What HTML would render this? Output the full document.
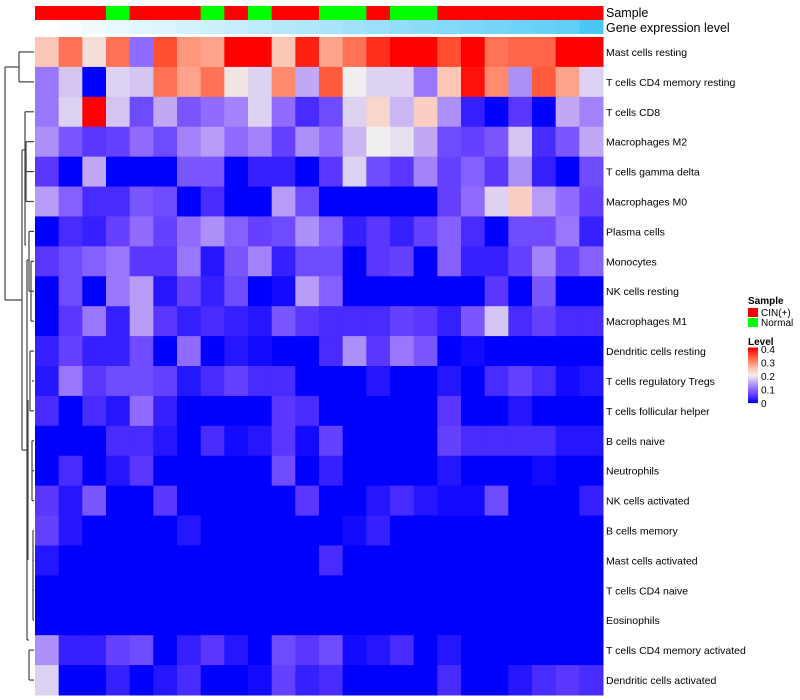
<!DOCTYPE html>
<html><head><meta charset="utf-8">
<style>
body{margin:0;background:#fff;}
svg{display:block;font-family:"Liberation Sans",sans-serif;}
</style></head>
<body>
<svg id="chart" width="800" height="700" xmlns="http://www.w3.org/2000/svg"></svg>
<script>
const rowNames = ["Mast cells resting","T cells CD4 memory resting","T cells CD8","Macrophages M2","T cells gamma delta","Macrophages M0","Plasma cells","Monocytes","NK cells resting","Macrophages M1","Dendritic cells resting","T cells regulatory  Tregs","T cells follicular helper","B cells naive","Neutrophils","NK cells activated","B cells memory","Mast cells activated","T cells CD4 naive","Eosinophils","T cells CD4 memory activated","Dendritic cells activated"];
const sampleGroups = ["CIN","CIN","CIN","Normal","CIN","CIN","CIN","Normal","CIN","Normal","CIN","CIN","Normal","Normal","CIN","Normal","Normal","CIN","CIN","CIN","CIN","CIN","CIN","CIN"];
const geneLevel = [0,0.04,0.08,0.12,0.16,0.2,0.24,0.28,0.32,0.36,0.4,0.44,0.48,0.52,0.56,0.6,0.64,0.68,0.72,0.76,0.8,0.84,0.88,1];
const r0 = [0.25,0.32,0.22,0.32,0.1,0.35,0.29,0.28,0.4,0.4,0.25,0.38,0.28,0.32,0.37,0.4,0.4,0.35,0.4,0.32,0.33,0.33,0.4,0.4];
const r1 = [0.11,0.17,0,0.18,0.17,0.32,0.28,0.32,0.21,0.18,0.3,0.15,0.34,0.2,0.18,0.18,0.11,0.25,0.39,0.3,0.13,0.34,0.28,0.18];
const r2 = [0.11,0.18,0.4,0.17,0.07,0.15,0.08,0.1,0.12,0.18,0.1,0.04,0.07,0.18,0.23,0.16,0.24,0.13,0.03,0,0.05,0,0.15,0.12];
const r3 = [0.13,0.08,0.05,0.06,0.1,0.07,0.12,0.14,0.1,0.12,0.06,0.13,0.1,0.16,0.2,0.19,0.15,0.07,0.06,0.08,0.17,0.04,0.08,0.15];
const r4 = [0.05,0,0.15,0,0,0,0.08,0.08,0,0.03,0.03,0,0.05,0.18,0.07,0.05,0.12,0.06,0.09,0.05,0.13,0.03,0,0.07];
const r5 = [0.14,0.09,0.04,0.04,0.08,0.07,0,0.04,0,0,0.14,0.07,0,0,0,0,0,0.06,0.1,0.18,0.24,0.14,0.1,0.06];
const r6 = [0,0.04,0.03,0.06,0.1,0.06,0.1,0.13,0.09,0.06,0.07,0.13,0.09,0.03,0.05,0.03,0.06,0.09,0.04,0,0.07,0.07,0.11,0.03];
const r7 = [0.05,0.07,0.09,0.11,0.05,0.05,0.11,0.02,0.08,0.12,0.03,0.07,0.07,0,0.05,0.06,0,0.09,0.03,0.03,0.06,0.12,0.06,0.09];
const r8 = [0,0.07,0,0.11,0.14,0.02,0.06,0.03,0.07,0,0.01,0.14,0.09,0,0,0,0,0,0,0.05,0,0.08,0,0];
const r9 = [0,0.05,0.11,0.03,0.14,0.05,0.03,0.04,0.03,0.02,0.08,0.05,0.04,0.04,0.04,0.06,0.05,0.03,0.08,0.17,0.04,0.06,0.04,0.04];
const r10 = [0.03,0.06,0.03,0.03,0.07,0,0.1,0,0.02,0.01,0,0,0.04,0.13,0.05,0.11,0.08,0,0.01,0,0,0,0,0];
const r11 = [0.02,0.11,0.05,0.07,0.07,0.06,0.02,0.04,0.06,0.04,0.04,0,0,0,0.02,0,0,0.02,0,0.04,0.06,0.04,0.01,0.02];
const r12 = [0.04,0,0.04,0.02,0.1,0.03,0,0,0,0,0.05,0.04,0,0,0,0,0,0.05,0,0,0.02,0,0,0];
const r13 = [0,0,0,0.04,0.04,0.02,0,0.04,0.01,0.02,0.05,0.01,0.06,0,0,0,0,0.06,0.04,0.04,0.04,0.04,0.02,0.02];
const r14 = [0,0.04,0,0.02,0.05,0,0,0,0,0,0.07,0,0.03,0,0,0,0,0.02,0,0,0,0.01,0,0];
const r15 = [0.05,0.02,0.08,0,0,0.05,0,0,0,0,0,0.05,0,0,0.02,0.04,0.02,0.01,0.01,0.07,0,0,0,0.03];
const r16 = [0.06,0.02,0,0,0,0,0.02,0,0,0,0,0,0,0.01,0.03,0,0,0,0,0,0,0,0,0];
const r17 = [0.02,0,0,0,0,0,0,0,0,0,0,0,0.04,0,0,0,0,0,0,0,0,0,0,0];
const r18 = [0,0,0,0,0,0,0,0,0,0,0,0,0,0,0,0,0,0,0,0,0,0,0,0];
const r19 = [0,0,0,0,0,0,0,0,0,0,0,0,0,0,0,0,0,0,0,0,0,0,0,0];
const r20 = [0.13,0.03,0.03,0.06,0.07,0,0.03,0.05,0.02,0,0.07,0.05,0.07,0.01,0.02,0.04,0,0.02,0,0,0,0,0,0];
const r21 = [0.18,0,0,0.03,0,0.02,0.04,0,0,0.01,0.06,0.03,0.04,0,0,0,0,0.04,0,0,0.02,0.04,0.05,0.04];
const values = [r0,r1,r2,r3,r4,r5,r6,r7,r8,r9,r10,r11,r12,r13,r14,r15,r16,r17,r18,r19,r20,r21];
const legendTicks = [0,0.1,0.2,0.3,0.4];

const svg = document.getElementById('chart');
const NS = "http://www.w3.org/2000/svg";
const X0 = 35, X1 = 603, Y0 = 37, Y1 = 695;
const nC = 24, nR = rowNames.length;
const cw = (X1 - X0) / nC, rh = (Y1 - Y0) / nR;
const xPos = c => X0 + c * cw;
const yPos = r => Y0 + r * rh;
const stops = [[0,[0,0,255]],[0.05,[90,54,255]],[0.1,[143,107,255]],[0.15,[192,168,245]],[0.2,[240,238,238]],[0.25,[252,198,182]],[0.3,[255,138,110]],[0.35,[255,78,48]],[0.4,[255,0,0]]];
function color(v){
  v = Math.max(0, Math.min(0.4, v));
  for (let i = 0; i < stops.length - 1; i++) {
    const [a, ca] = stops[i], [b, cb] = stops[i+1];
    if (v <= b) { const t = (v - a) / (b - a); return 'rgb(' + ca.map((x,k)=>Math.round(x + (cb[k]-x)*t)).join(',') + ')'; }
  }
  return 'rgb(255,0,0)';
}
function el(tag, attrs){ const e = document.createElementNS(NS, tag); for (const k in attrs) e.setAttribute(k, attrs[k]); svg.appendChild(e); return e; }

// annotations
for (let c = 0; c < nC; c++) {
  const s = el('rect', {x: xPos(c), y: 6, width: cw + 0.5, height: 14, fill: sampleGroups[c] === 'CIN' ? '#ff0000' : '#00ff00'});
  
  
  const g = geneLevel[c];
  const gc = 'rgb(' + Math.round(255 - (255-74)*g) + ',' + Math.round(255 - (255-200)*g) + ',' + Math.round(255 - (255-245)*g) + ')';
  const e = el('rect', {x: xPos(c), y: 20, width: cw + 0.5, height: 14, fill: gc});
  
  
}
let t = el('text', {x: 606, y: 17, 'font-size': 12.5, fill: '#000'}); t.textContent = 'Sample';


t = el('text', {x: 606, y: 32, 'font-size': 12.5, fill: '#000'}); t.textContent = 'Gene expression level';



// heatmap cells
for (let r = 0; r < nR; r++) {
  for (let c = 0; c < nC; c++) {
    const cell = el('rect', {x: xPos(c), y: yPos(r), width: cw + 0.5, height: rh + 0.5, fill: color(values[r][c])});
    
    
  }
  const lab = el('text', {x: 606, y: yPos(r) + rh/2 + 4, 'font-size': 10.5, fill: '#000'});
  lab.textContent = rowNames[r];
  
  
}

// dendrogram (approximate)
const yc = r => yPos(r) + rh/2;
const segs = [
  [19,yc(0),19,yc(1)],[19,yc(0),34,yc(0)],[19,yc(1),34,yc(1)],
  [5,67,5,300],[5,67,19,67],[5,300,22,300],
  [22,150,22,450],[22,150,25,150],[22,450,27,450],
  [25,yc(2),25,245],[25,yc(2),34,yc(2)],[25,245,26,245],
  [26,yc(3),26,yc(4),],[26,yc(3),34,yc(3)],[26,yc(4),34,yc(4)],
  [26,156,26,yc(5)],[26,yc(5),34,yc(5)],
  [27,260,27,640],[27,260,29,260],[29,yc(6),29,yc(8)],[29,yc(6),34,yc(6)],[29,yc(8),34,yc(8)],
  [31,yc(7),31,yc(9)],[31,yc(7),34,yc(7)],[31,yc(9),34,yc(9)],
  [28,400,28,560],[30,yc(10),30,yc(12)],[30,yc(10),34,yc(10)],[30,yc(12),34,yc(12)],
  [32,yc(11),34,yc(11)],[32,yc(13),32,yc(15)],[32,yc(13),34,yc(13)],[32,yc(14),34,yc(14)],[32,yc(15),34,yc(15)],
  [33,yc(16),33,yc(19)],[33,yc(16),34,yc(16)],[33,yc(17),34,yc(17)],[33,yc(18),34,yc(18)],[33,yc(19),34,yc(19)],
  [27,640,29,640],[29,yc(20),29,yc(21)],[29,yc(20),34,yc(20)],[29,yc(21),34,yc(21)]
];
segs.forEach(s => {
  const l = el('line', {x1: s[0], y1: s[1], x2: s[2], y2: s[3], stroke: '#444', 'stroke-width': 1.2});
  
  
});

// legend
t = el('text', {x: 748, y: 304, 'font-size': 10, 'font-weight': 'bold'}); t.textContent = 'Sample';


[['CIN(+)','#ff0000',308],['Normal','#00ff00',318]].forEach(d => {
  const r = el('rect', {x: 748, y: d[2], width: 10, height: 9, fill: d[1]});
  
  
  const tt = el('text', {x: 761, y: d[2] + 8, 'font-size': 10}); tt.textContent = d[0];
  
  
});
t = el('text', {x: 748, y: 345, 'font-size': 10, 'font-weight': 'bold'}); t.textContent = 'Level';


const LB0 = 403, LB1 = 349;
const ly = v => LB0 - (v / 0.4) * (LB0 - LB1);
for (let i = 0; i < 54; i++) {
  const v = 0.4 * i / 53;
  const r = el('rect', {x: 748, y: ly(v) - 1.5, width: 10, height: 1.6, fill: color(v)});
  
  
}
legendTicks.forEach(v => {
  const tt = el('text', {x: 761, y: ly(v) + 4, 'font-size': 10}); tt.textContent = String(v);
  
  
});
</script>
</body></html>
